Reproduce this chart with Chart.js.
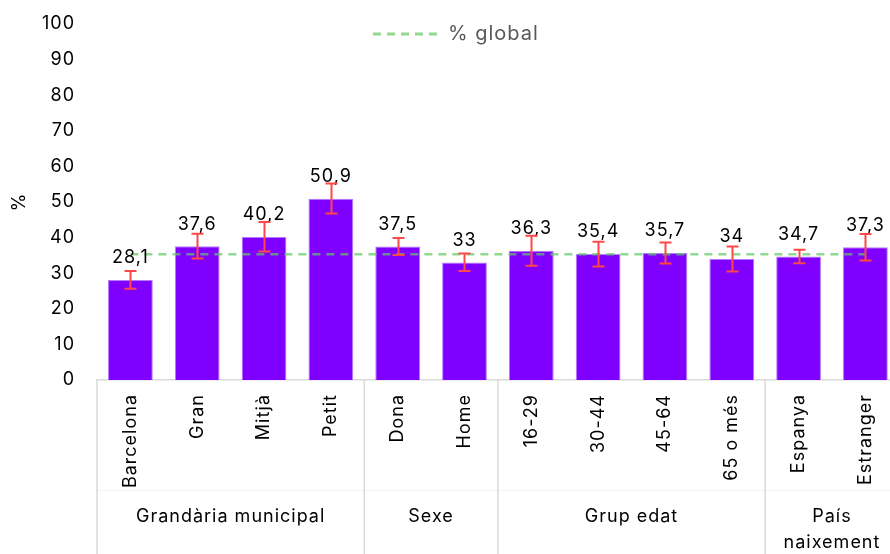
<!DOCTYPE html>
<html lang="ca">
<head>
<meta charset="UTF-8">
<title>% global per grups</title>
<script src="https://cdn.jsdelivr.net/npm/chart.js"></script>
<style>
  html, body { margin: 0; padding: 0; background: #fff; overflow: hidden; }
  .wrap { width: 901px; height: 554px; }
</style>
</head>
<body>
<div class="wrap"><canvas id="chart"></canvas></div>
<script>
const categories = ['Barcelona', 'Gran', 'Mitjà', 'Petit', 'Dona', 'Home', '16-29', '30-44', '45-64', '65 o més', 'Espanya', 'Estranger'];
const values = [28.1, 37.6, 40.2, 50.9, 37.5, 33, 36.3, 35.4, 35.7, 34, 34.7, 37.3];
const ciLow = [25.6, 34.1, 36.1, 46.8, 35.1, 30.6, 32.1, 31.9, 32.7, 30.5, 32.8, 33.6];
const ciHigh = [30.6, 41.1, 44.4, 55.2, 39.9, 35.5, 40.5, 38.8, 38.6, 37.5, 36.6, 41.0];
const globalPct = 35.3;
const groupLabels = [['Grandària municipal'], ['Sexe'], ['Grup edat'], ['País', 'naixement']];
const groupSizes = [4, 2, 4, 2];
const yTicks = [0, 10, 20, 30, 40, 50, 60, 70, 80, 90, 100];

const FONT = 'Inter, "Noto Sans", sans-serif';
const LINE_COLOR = 'rgba(99, 199, 99, 0.7)';
const LINE_DASH = [8, 6];
const SPACING = '1px';

const fmt = v => String(v).replace('.', ',');

// slightly wider lettering for every text on the canvas
const letterSpacing = {
  id: 'letterSpacing',
  beforeUpdate(chart) { chart.ctx.letterSpacing = SPACING; },
  beforeDraw(chart) { chart.ctx.letterSpacing = SPACING; }
};

// value labels above each bar
const valueLabels = {
  id: 'valueLabels',
  afterDatasetsDraw(chart) {
    const { ctx } = chart;
    const meta = chart.getDatasetMeta(0);
    ctx.save();
    ctx.font = '18px ' + FONT;
    ctx.fillStyle = '#000';
    ctx.textAlign = 'center';
    ctx.textBaseline = 'bottom';
    meta.data.forEach((bar, i) => {
      ctx.fillText(fmt(values[i]), bar.x, bar.y - 13);
    });
    ctx.restore();
  }
};

// confidence interval whiskers
const errorBars = {
  id: 'errorBars',
  afterDatasetsDraw(chart) {
    const { ctx, scales: { y } } = chart;
    const meta = chart.getDatasetMeta(0);
    ctx.save();
    ctx.strokeStyle = '#ff4747';
    ctx.lineWidth = 2;
    meta.data.forEach((bar, i) => {
      const lo = y.getPixelForValue(ciLow[i]);
      const hi = y.getPixelForValue(ciHigh[i]);
      const x = Math.round(bar.x) + 0.5;
      ctx.beginPath();
      ctx.moveTo(x, lo); ctx.lineTo(x, hi);
      ctx.moveTo(x - 6, lo); ctx.lineTo(x + 6, lo);
      ctx.moveTo(x - 6, hi); ctx.lineTo(x + 6, hi);
      ctx.stroke();
    });
    ctx.restore();
  }
};

// group separators and group names under the category labels
const groupAxis = {
  id: 'groupAxis',
  afterDraw(chart) {
    const { ctx, chartArea, scales: { x } } = chart;
    const bottom = chart.height;
    const bounds = [chartArea.left];
    let idx = 0;
    groupSizes.forEach(n => {
      idx += n;
      bounds.push(idx < categories.length
        ? (x.getPixelForTick(idx - 1) + x.getPixelForTick(idx)) / 2
        : chartArea.right);
    });
    ctx.save();
    ctx.strokeStyle = '#f3f3f3';
    ctx.lineWidth = 1;
    ctx.beginPath();
    ctx.moveTo(chartArea.left, 490.5); ctx.lineTo(chartArea.right, 490.5);
    ctx.stroke();
    ctx.strokeStyle = '#d9d9d9';
    ctx.lineWidth = 1.5;
    ctx.beginPath();
    bounds.slice(0, -1).forEach(b => {
      ctx.moveTo(b, chartArea.bottom); ctx.lineTo(b, bottom);
    });
    ctx.stroke();
    ctx.font = '18px ' + FONT;
    ctx.fillStyle = '#000';
    ctx.textAlign = 'center';
    ctx.textBaseline = 'middle';
    groupLabels.forEach((lines, g) => {
      const cx = (bounds[g] + bounds[g + 1]) / 2;
      lines.forEach((t, k) => ctx.fillText(t, cx, 517 + k * 26));
    });
    ctx.restore();
  }
};

// legend entry for the global line
const globalLegend = {
  id: 'globalLegend',
  afterDraw(chart) {
    const { ctx } = chart;
    const ds = chart.data.datasets[1];
    ctx.save();
    ctx.strokeStyle = ds.borderColor;
    ctx.lineWidth = 3;
    ctx.setLineDash(ds.borderDash);
    ctx.beginPath();
    ctx.moveTo(373, 34); ctx.lineTo(441, 34);
    ctx.stroke();
    ctx.setLineDash([]);
    ctx.font = '20px ' + FONT;
    ctx.fillStyle = '#595959';
    ctx.textBaseline = 'middle';
    ctx.fillText(ds.label, 448, 34);
    ctx.restore();
  }
};

new Chart(document.getElementById('chart'), {
  data: {
    labels: categories,
    datasets: [
      {
        type: 'bar',
        label: '%',
        data: values,
        backgroundColor: '#8000ff',
        borderColor: '#b27cff',
        borderWidth: 1,
        barPercentage: 0.67,
        categoryPercentage: 1,
        order: 2
      },
      {
        type: 'line',
        label: '% global',
        data: categories.map(() => globalPct),
        borderColor: LINE_COLOR,
        borderDash: LINE_DASH,
        borderWidth: 2.5,
        pointRadius: 0,
        fill: false,
        order: 1
      }
    ]
  },
  options: {
    responsive: true,
    maintainAspectRatio: false,
    animation: false,
    layout: { padding: { top: 24, right: 0, left: 0, bottom: 0 } },
    plugins: {
      legend: { display: false },
      tooltip: { enabled: false }
    },
    scales: {
      x: {
        grid: { display: false, drawTicks: false },
        border: { display: true, color: '#d9d9d9', width: 1.5 },
        ticks: {
          color: '#000',
          font: { family: FONT, size: 18 },
          maxRotation: 90,
          minRotation: 90,
          autoSkip: false,
          padding: 14
        },
        afterFit(scale) { scale.height = 174; }
      },
      y: {
        min: 0,
        max: 100,
        afterBuildTicks(scale) { scale.ticks = yTicks.map(v => ({ value: v })); },
        grid: { display: false, drawTicks: false },
        border: { display: false },
        ticks: {
          color: '#000',
          font: { family: FONT, size: 18 },
          padding: 22
        },
        title: {
          display: true,
          text: '%',
          color: '#000',
          font: { family: FONT, size: 18 },
          padding: { top: 9, bottom: 0 }
        },
        afterFit(scale) {
          scale.width = 97;
          scale.paddingTop = 0;
          scale.paddingBottom = 0;
        }
      }
    }
  },
  plugins: [letterSpacing, valueLabels, errorBars, groupAxis, globalLegend]
});
</script>
</body>
</html>
